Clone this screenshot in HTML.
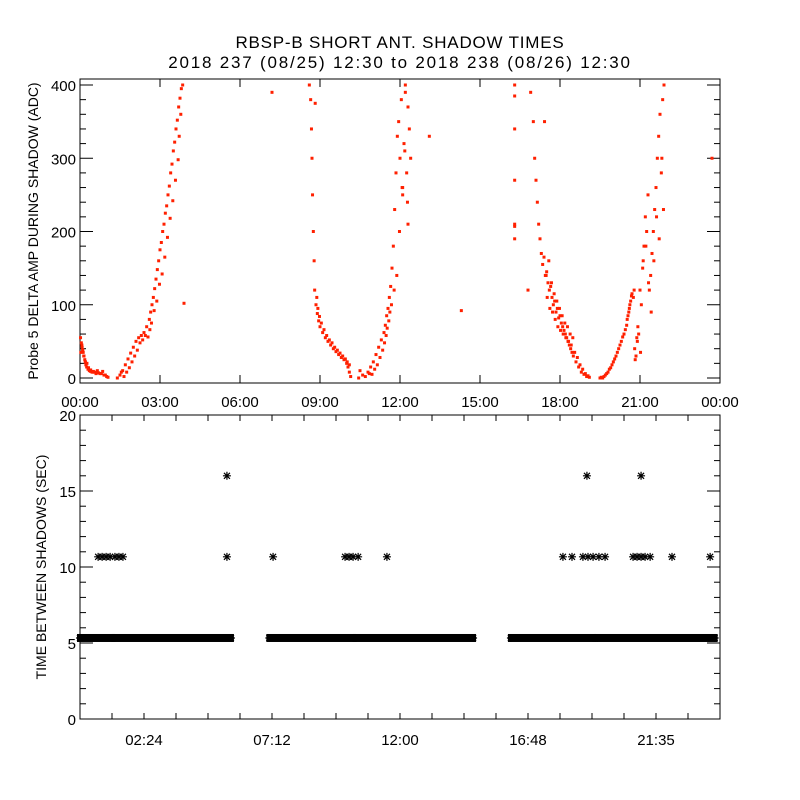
<!DOCTYPE html>
<html><head><meta charset="utf-8"><style>
body{margin:0;background:#fff;}
svg{display:block;font-family:"Liberation Sans",sans-serif;}
</style></head><body>
<svg id="c" width="800" height="800">
<rect width="800" height="800" fill="#fff"/>
<text x="400" y="48" font-size="17" letter-spacing="0.8" text-anchor="middle">RBSP-B SHORT ANT. SHADOW TIMES</text>
<text x="400" y="68" font-size="17" letter-spacing="1.8" text-anchor="middle">2018 237 (08/25) 12:30 to 2018 238 (08/26) 12:30</text>
<text transform="translate(38,231) rotate(-90)" font-size="14" text-anchor="middle">Probe 5 DELTA AMP DURING SHADOW (ADC)</text>
<text transform="translate(46,567) rotate(-90)" font-size="14" text-anchor="middle">TIME BETWEEN SHADOWS (SEC)</text>
<g id="topPanel"></g>
<g id="botPanel"></g>
</svg>
<script>
// ---- top panel data (hours, ADC) ----
const ampHours = [0.02,0.05,0.08,0.1,0.12,0.15,0.18,0.2,0.22,0.25,0.3,0.35,0.4,0.45,0.5,0.55,0.6,0.7,0.8,0.9,1.0,1.05,
1.4,1.5,1.6,1.7,1.8,1.9,2.0,2.1,2.2,2.3,2.4,2.5,2.6,2.65,2.7,2.75,2.8,2.85,2.9,2.95,3.0,3.05,3.1,3.15,3.2,3.25,3.3,3.35,3.4,3.45,3.5,3.55,3.6,3.65,3.7,3.75,3.8,3.85,3.9,7.2,
8.6,8.65,8.68,8.7,8.72,8.75,8.78,8.8,8.85,8.9,8.95,9.0,9.1,9.2,9.3,9.4,9.5,9.6,9.7,9.8,9.9,10.0,10.05,10.1,10.15,
10.45,10.6,10.8,10.9,11.0,11.1,11.2,11.3,11.4,11.45,11.5,11.55,11.6,11.65,11.7,11.75,11.8,11.85,11.9,11.95,12.0,12.05,12.1,12.15,12.2,12.25,12.3,12.35,12.4,12.1,12.2,12.3,
13.1,14.3,16.3,16.3,16.3,16.3,16.3,16.3,16.3,
16.8,16.9,17.0,17.05,17.1,17.15,17.2,17.25,17.3,17.35,17.4,17.45,17.5,17.55,17.6,17.65,17.7,17.75,17.8,17.85,17.9,17.95,18.0,18.05,18.1,18.15,18.2,18.25,18.3,18.35,18.4,18.45,18.5,18.6,18.7,18.8,18.9,19.0,19.1,
19.5,19.6,19.7,19.8,19.9,20.0,20.1,20.2,20.3,20.4,20.5,20.55,20.6,20.65,20.7,20.75,20.8,20.85,20.9,20.95,21.0,21.05,21.1,21.15,21.2,21.25,21.3,21.35,21.4,21.45,21.5,21.55,21.6,21.65,21.7,21.75,21.8,21.85,21.9,23.7,
0.03,0.07,0.1,0.14,0.2,0.26,0.32,0.4,0.5,0.6,0.65,0.75,0.85,0.95,
1.55,1.65,1.75,1.85,1.95,2.05,2.15,2.25,2.35,2.45,2.55,2.62,2.68,2.78,2.88,2.98,3.08,3.18,3.28,3.38,3.48,3.58,3.68,3.72,3.78,
8.82,8.88,8.92,8.98,9.05,9.15,9.25,9.35,9.45,9.55,9.65,9.75,9.85,9.95,10.02,10.1,
10.5,10.7,10.85,10.95,11.05,11.15,11.25,11.35,11.42,11.48,11.52,11.58,11.62,11.68,11.78,11.88,11.98,12.08,12.18,12.28,
17.42,17.48,17.52,17.58,17.62,17.68,17.72,17.78,17.82,17.88,17.92,17.98,18.02,18.08,18.12,18.18,18.22,18.28,18.32,18.38,18.42,18.48,18.55,18.65,18.75,18.85,18.95,19.05,
19.55,19.65,19.75,19.85,19.95,20.05,20.15,20.25,20.35,20.45,20.52,20.58,20.62,20.68,20.78,20.82,20.88,20.92,21.02,21.12,21.22,21.32,21.42,21.52,21.62,21.72,21.82,21.88];
const ampValues = [55,48,42,38,35,30,25,22,18,15,12,10,9,8,8,8,7,7,6,4,2,1,
0,4,10,18,26,34,42,50,55,58,62,70,80,90,100,110,122,135,148,160,175,185,200,210,225,235,250,262,280,292,310,322,340,352,370,382,395,400,102,390,
400,380,340,300,250,200,160,120,100,88,78,70,62,55,50,45,40,36,32,28,25,20,15,8,2,
0,4,8,15,22,32,42,52,62,72,85,95,110,125,150,180,230,280,330,350,300,380,260,320,400,280,370,340,300,250,390,210,330,
92,207,400,385,340,270,210,190,120,
390,350,300,270,240,210,190,170,155,165,140,145,130,120,125,110,100,105,90,95,82,85,75,70,65,60,55,50,45,40,35,30,22,15,8,5,2,1,0,
0,4,8,14,22,30,40,50,60,72,85,95,105,115,110,40,30,50,60,120,100,150,180,220,200,250,120,140,170,200,230,260,300,330,360,280,380,400,300,35,
45,38,30,22,20,14,11,9,6,10,6,9,4,8,
2,8,14,22,30,38,48,52,58,56,66,75,92,105,128,142,165,192,218,242,270,298,330,360,375,
110,95,84,75,66,58,52,48,42,38,34,30,26,22,18,10,
2,6,5,12,18,28,38,48,58,68,78,90,100,120,140,200,260,310,240,350,
140,110,160,95,130,90,115,80,105,70,95,65,85,60,75,55,70,50,60,45,55,35,28,18,12,6,3,1,
2,6,12,18,26,35,45,56,66,80,90,100,112,120,25,55,70,35,160,180,130,90,160,220,190,300,230,260];
// ---- bottom panel data ----
const bandStart = [0.0,1.3,7.1,10.35,16.16,19.4];
const bandEnd   = [1.2,5.66,10.24,14.74,19.24,23.8];
const bandValue = 5.33;
const midHours = [0.68,0.83,0.98,1.13,1.31,1.46,1.61,5.51,7.24,9.94,10.09,10.24,10.43,11.51,18.11,18.45,18.86,19.05,19.24,19.46,19.69,20.74,20.89,21.04,21.19,21.38,22.2,23.63];
const midValue = 10.67;
const highHours = [5.51,19.01,21.04];
const highValue = 16;
const topXLabels = ["00:00","03:00","06:00","09:00","12:00","15:00","18:00","21:00","00:00"];
const topYLabels = [0,100,200,300,400];
const botXLabels = ["02:24","07:12","12:00","16:48","21:35"];
const botYLabels = [0,5,10,15,20];

const NS="http://www.w3.org/2000/svg";
function mk(p,t,a){const e=document.createElementNS(NS,t);for(const k in a)e.setAttribute(k,a[k]);p.appendChild(e);return e;}
const L=80,R=720;
const tx=h=>L+h*(R-L)/24;
const tT=79,tB=383, ty=v=>378-v*0.7325;
const bT=415,bB=719, by=v=>bB-v*(bB-bT)/20;
const topG=document.getElementById('topPanel'), botG=document.getElementById('botPanel');

let f=mk(topG,'rect',{x:L,y:tT,width:R-L,height:tB-tT,fill:'none',stroke:'#000','stroke-width':1});


for(let v=0;v<=400;v+=20){
  const y=ty(v), len=v%100===0?13:6;
  mk(topG,'line',{x1:L,x2:L+len,y1:y,y2:y,stroke:'#000'});
  mk(topG,'line',{x1:R,x2:R-len,y1:y,y2:y,stroke:'#000'});
}
topYLabels.forEach(v=>{
  const t=mk(topG,'text',{x:76,y:ty(v)+6,'font-size':15,'text-anchor':'end'});t.textContent=v;
  
  
});
topXLabels.forEach((s,i)=>{
  const x=tx(i*3);
  mk(topG,'line',{x1:x,x2:x,y1:tB,y2:tB-8,stroke:'#000'});
  mk(topG,'line',{x1:x,x2:x,y1:tT,y2:tT+8,stroke:'#000'});
  const t=mk(topG,'text',{x:x,y:407,'font-size':15,'text-anchor':'middle'});t.textContent=s;
  
  
});
ampHours.forEach((h,i)=>{
  const r=mk(topG,'rect',{x:tx(h)-1.5,y:ty(ampValues[i])-1.5,width:3,height:3,fill:'#ff2000'});
  
  
});

f=mk(botG,'rect',{x:L,y:bT,width:R-L,height:bB-bT,fill:'none',stroke:'#000'});


for(let v=0;v<=20;v++){
  const y=by(v), len=v%5===0?13:6;
  mk(botG,'line',{x1:L,x2:L+len,y1:y,y2:y,stroke:'#000'});
  mk(botG,'line',{x1:R,x2:R-len,y1:y,y2:y,stroke:'#000'});
}
botYLabels.forEach(v=>{
  const t=mk(botG,'text',{x:76,y:by(v)+6,'font-size':15,'text-anchor':'end'});t.textContent=v;
  
  
});
for(let k=1;k<20;k++){
  const x=tx(k*1.2);
  mk(botG,'line',{x1:x,x2:x,y1:bB,y2:bB-6,stroke:'#000'});
  mk(botG,'line',{x1:x,x2:x,y1:bT,y2:bT+6,stroke:'#000'});
}
botXLabels.forEach((s,i)=>{
  const t=mk(botG,'text',{x:tx(2.4+i*4.8),y:745,'font-size':15,'text-anchor':'middle'});t.textContent=s;
  
  
});
function star(h,v,name){
  const x=tx(h),y=by(v);
  const g=mk(botG,'path',{d:`M${x-4},${y}H${x+4}M${x},${y-4}V${y+4}M${x-3},${y-3}L${x+3},${y+3}M${x-3},${y+3}L${x+3},${y-3}`,stroke:'#000','stroke-width':1.2,fill:'none'});
  
  
}
bandStart.forEach((s,i)=>{
  const x1=tx(s),x2=tx(bandEnd[i]),y=by(bandValue);
  const r=mk(botG,'rect',{x:x1-3,y:y-4,width:x2-x1+6,height:8,fill:'#000'});
  
  
  star(s,bandValue,'interval-point');
  star(bandEnd[i],bandValue,'interval-point');
});
midHours.forEach(h=>star(h,midValue,'interval-point'));
highHours.forEach(h=>star(h,highValue,'interval-point'));
</script>
</body></html>
